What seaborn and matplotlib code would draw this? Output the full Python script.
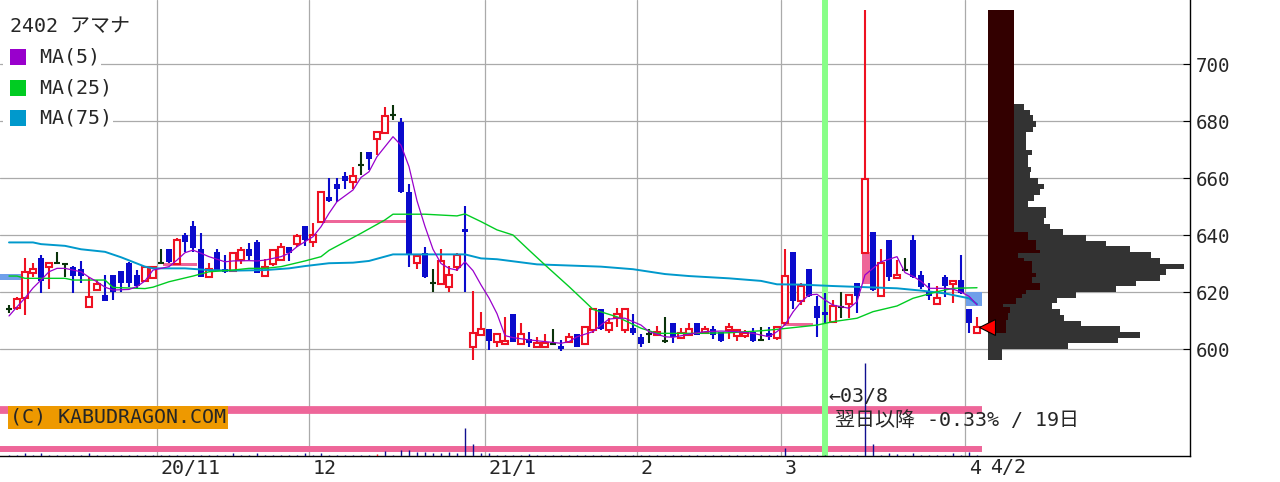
import numpy as np
import pandas as pd
import matplotlib
matplotlib.use("Agg")
import matplotlib.pyplot as plt
import seaborn as sns
from matplotlib.patches import Rectangle
from matplotlib.transforms import ScaledTranslation

sns.set_theme(style="white")
plt.rcParams['font.family'] = ['DejaVu Sans Mono', 'Noto Sans CJK JP']

# TSE trading days shown (2020-10-06 .. 2021-04-02)
holidays = ["2020-11-03", "2020-11-23", "2020-12-31", "2021-01-01",
            "2021-01-11", "2021-02-11", "2021-02-23"]
dates = pd.bdate_range("2020-10-06", "2021-04-02")
dates = dates[~dates.isin(pd.to_datetime(holidays))]

opens = [614.0, 614.4, 617.8, 626.6, 631.8, 628.9, 630.1, 629.8, 628.9, 628.1,
         614.6, 620.7, 619.0, 626.0, 627.2, 630.1, 626.0, 623.9, 624.8, 630.1,
         635.0, 629.7, 640.0, 643.3, 635.1, 625.4, 634.1, 628.1, 627.2, 631.2,
         635.1, 637.6, 625.6, 629.8, 631.2, 635.9, 636.8, 643.3, 637.6, 644.5,
         653.4, 657.9, 660.8, 658.7, 664.6, 669.0, 673.7, 675.7, 682.1, 679.8,
         655.0, 630.1, 633.6, 623.1, 622.8, 621.7, 628.9, 642.1, 600.8, 604.9,
         606.9, 602.6, 601.8, 612.2, 601.7, 603.4, 600.8, 600.8, 601.8, 601.1,
         602.6, 605.2, 601.8, 606.7, 613.9, 606.7, 610.8, 606.5, 607.3, 604.3,
         605.3, 604.9, 602.9, 609.0, 603.8, 604.9, 609.0, 605.7, 606.9, 605.9,
         606.7, 604.6, 604.6, 606.1, 603.2, 605.5, 603.8, 609.0, 633.9, 616.8,
         628.1, 615.1, 613.1, 609.6, 614.9, 615.8, 623.0, 633.6, 641.0, 618.6,
         638.2, 624.8, 627.7, 638.2, 626.0, 619.9, 615.8, 625.4, 622.8, 624.2,
         613.9, 605.7]
highs = [615.4, 618.2, 631.8, 630.3, 633.0, 630.1, 634.0, 630.1, 629.3, 631.0,
         625.2, 624.2, 626.0, 626.0, 627.2, 630.7, 627.7, 628.9, 628.9, 635.1,
         635.0, 638.8, 640.6, 645.0, 640.6, 630.1, 635.0, 633.0, 634.1, 635.9,
         637.3, 638.2, 631.6, 634.7, 637.3, 635.9, 640.3, 643.3, 644.1, 655.0,
         659.9, 659.9, 662.0, 663.8, 669.0, 669.0, 676.0, 685.0, 685.6, 681.0,
         657.8, 632.8, 635.9, 628.1, 635.0, 629.1, 633.6, 650.2, 620.4, 613.1,
         606.9, 605.7, 611.1, 612.2, 609.0, 605.8, 604.3, 605.1, 607.0, 603.2,
         605.5, 605.2, 607.8, 613.9, 613.9, 610.8, 614.3, 613.9, 612.3, 605.2,
         606.9, 608.1, 611.3, 609.0, 607.3, 609.0, 609.0, 608.2, 608.1, 605.9,
         609.0, 606.9, 606.7, 607.3, 607.8, 607.8, 608.1, 635.1, 633.9, 623.3,
         628.1, 618.6, 619.5, 617.2, 619.9, 618.9, 623.0, 718.9, 641.0, 635.1,
         638.2, 631.2, 631.8, 640.0, 627.2, 623.0, 622.1, 626.0, 623.9, 633.0,
         613.9, 611.1]
lows = [612.6, 613.7, 611.9, 625.4, 619.8, 621.0, 629.8, 625.4, 619.8, 623.0,
        614.6, 620.7, 616.7, 617.2, 620.1, 621.9, 621.3, 623.9, 624.8, 630.0,
        630.1, 629.7, 634.1, 634.1, 625.2, 625.2, 627.2, 626.6, 626.9, 629.8,
        631.2, 626.6, 625.6, 629.0, 631.0, 631.0, 635.7, 636.3, 635.9, 644.5,
        651.7, 651.7, 656.0, 656.0, 661.1, 662.8, 668.1, 675.7, 680.4, 654.6,
        628.9, 628.0, 624.8, 619.9, 622.8, 619.9, 627.2, 619.9, 596.1, 604.9,
        599.6, 600.8, 601.8, 602.6, 601.7, 600.8, 600.8, 600.8, 601.4, 599.4,
        602.0, 600.6, 601.8, 605.5, 606.5, 605.7, 607.8, 605.5, 604.9, 600.8,
        602.0, 604.9, 602.0, 602.0, 603.8, 604.9, 604.9, 605.5, 603.4, 602.6,
        603.4, 602.9, 603.8, 602.6, 602.9, 603.2, 603.2, 608.4, 614.0, 615.4,
        618.2, 604.1, 608.8, 609.0, 610.8, 610.8, 612.5, 633.6, 620.5, 618.6,
        624.0, 624.8, 627.7, 624.8, 621.0, 617.2, 615.8, 618.1, 616.0, 619.3,
        605.7, 605.7]
closes = [614.0, 617.5, 626.9, 628.1, 623.9, 630.1, 630.1, 629.8, 625.6, 625.6,
          618.1, 622.8, 617.0, 619.9, 623.3, 623.0, 622.1, 628.9, 628.9, 630.1,
          630.7, 638.2, 637.4, 635.6, 625.4, 628.1, 627.5, 626.9, 633.8, 634.7,
          632.6, 626.8, 628.9, 634.7, 635.9, 633.6, 639.8, 638.2, 640.0, 655.0,
          652.0, 656.0, 659.0, 660.8, 664.6, 666.7, 676.0, 681.9, 682.1, 655.0,
          633.0, 632.8, 625.2, 623.1, 631.0, 626.0, 633.0, 641.0, 605.7, 606.9,
          602.9, 605.3, 602.9, 602.6, 605.2, 602.0, 602.2, 602.2, 601.8, 599.9,
          604.3, 600.8, 607.8, 613.9, 606.9, 609.0, 612.2, 613.9, 605.5, 601.8,
          605.3, 605.9, 602.9, 604.1, 605.5, 607.0, 604.9, 606.9, 604.9, 602.9,
          607.8, 606.7, 605.7, 602.9, 603.2, 604.1, 607.8, 625.7, 617.0, 622.1,
          618.6, 611.0, 611.9, 615.1, 614.9, 618.9, 618.7, 659.6, 620.7, 630.1,
          625.2, 626.0, 627.7, 625.1, 621.9, 618.7, 618.0, 622.2, 623.9, 619.5,
          609.0, 607.8]
volume = [1, 1, 2.7, 1, 2.7, 1, 1, 1, 1, 1,
          2.7, 1, 1, 1, 1, 1, 1, 1, 1, 1,
          1, 1, 1, 1, 1, 1, 1, 1, 2.7, 1,
          1, 2.7, 1, 1, 1, 1, 1, 2.7, 1, 2.7,
          1, 1, 1, 1, 1, 1, 2, 5.3, 1, 6,
          6, 4, 4, 2.7, 2.7, 4, 2.7, 27.7, 12, 2.7,
          2.7, 1, 1, 1, 1, 2, 1, 1, 1, 1,
          1, 1, 1, 1, 1, 1, 1, 1, 1, 1,
          1, 1, 1, 1, 1, 1, 1, 1, 1, 1,
          1, 1, 1, 1, 1, 1, 1, 8, 1, 1,
          1, 1, 1, 1, 1, 1, 1, 93, 12, 1,
          2.7, 2, 1, 2.7, 1, 1, 1, 1, 2.7, 1,
          4, 1]

# moving averages (candle index, price)
ma5_idx = [0, 1, 2, 3, 4, 5, 6, 7, 9, 10, 11, 12, 13, 15, 16, 17, 18, 20, 21, 22,
           23, 24, 25, 27, 28, 30, 31, 32, 34, 35, 36, 38, 39, 40, 41, 43, 44, 45, 46, 48,
           49, 50, 51, 52, 53, 54, 55, 56, 57, 58, 59, 60, 61, 62, 63, 65, 67, 69, 70, 71,
           73, 74, 75, 76, 77, 79, 80, 82, 83, 85, 87, 89, 91, 93, 95, 96, 97, 98, 99, 100,
           101, 102, 103, 105, 106, 107, 108, 109, 111, 112, 113, 114, 115, 117, 118, 119, 120, 121]
ma5_val = [611.6, 614.8, 617.9, 621.4, 624.2, 627.1, 628.3, 628.3, 627.1, 625.2,
           623.6, 621.7, 620.7, 620.9, 621.9, 623.9, 627.7, 628.9, 631.2, 633.8,
           634.7, 633.6, 632.4, 630.6, 630.9, 631.0, 630.9, 631.2, 632.4, 633.6,
           635.9, 639.4, 642.9, 647.6, 651.7, 655.8, 660.2, 662.2, 667.5, 674.5,
           671.5, 664.0, 652.0, 643.0, 635.0, 630.0, 628.3, 627.7, 630.6, 627.5,
           622.5, 617.9, 612.4, 604.7, 604.0, 603.2, 602.6, 602.0, 602.6, 604.3,
           606.1, 608.4, 610.5, 610.8, 610.8, 608.4, 606.1, 604.3, 604.1, 605.2,
           606.1, 606.3, 606.1, 605.5, 604.3, 606.1, 608.5, 613.0, 616.5, 619.0,
           619.2, 617.2, 615.4, 614.3, 616.6, 626.0, 628.3, 630.6, 632.4, 626.8,
           625.5, 623.8, 621.3, 621.3, 621.0, 620.0, 618.5, 615.5]
ma25_idx = [0, 1, 2, 7, 8, 12, 13, 17, 18, 20, 23, 25, 28, 30, 32, 34, 37, 39, 40, 44,
            47, 48, 52, 56, 57, 59, 61, 63, 65, 67, 70, 72, 73, 76, 79, 81, 86, 90, 94, 96,
            99, 101, 103, 106, 108, 111, 113, 116, 118, 121]
ma25_val = [625.6, 625.6, 624.8, 624.8, 624.2, 624.2, 621.6, 621.2, 621.7, 623.6,
            625.6, 627.1, 627.7, 628.3, 628.3, 628.9, 630.9, 632.4, 634.6, 640.6,
            645.3, 647.3, 647.3, 646.7, 647.4, 644.7, 641.8, 640.0, 634.7, 629.5,
            621.9, 616.6, 613.9, 611.3, 607.3, 605.5, 605.5, 605.7, 606.4, 606.9,
            607.8, 608.4, 609.6, 610.8, 613.1, 615.1, 617.8, 620.1, 621.3, 621.5]
ma75_idx = [0, 3, 4, 7, 9, 12, 14, 17, 18, 22, 25, 28, 32, 35, 37, 40, 43, 45, 48, 57,
            59, 61, 66, 74, 78, 82, 85, 90, 94, 96, 99, 103, 111, 114, 117, 120, 121]
ma75_val = [637.4, 637.4, 636.8, 636.2, 635.0, 634.1, 632.2, 628.9, 628.3, 628.3,
            627.7, 627.5, 627.7, 628.3, 629.1, 630.1, 630.3, 630.9, 633.2, 633.2,
            631.8, 631.5, 629.7, 628.9, 628.0, 626.3, 625.6, 624.8, 623.9, 622.7,
            622.6, 622.1, 621.3, 620.5, 619.5, 617.8, 615.8]

# price-by-volume profile (2-yen bins, lower edge) and recent-period profile
prof_price = list(range(596, 686, 2))
prof_vol = [14, 14, 80, 130, 152, 132, 93, 76, 72, 64, 69, 88, 128, 148, 172, 178,
            196, 172, 163, 142, 118, 98, 75, 62, 56, 58, 58, 40, 46, 52, 56, 50,
            42, 43, 40, 40, 44, 38, 38, 38, 45, 48, 45, 42, 36]
recent_lo = [605.5, 610.2, 612.5, 614.9, 615.7, 617.8, 619.3, 620.7, 623.0, 625.1,
             626.6, 631.0, 631.8, 633.6, 634.7, 638.2, 641.2]
recent_hi = [610.2, 612.5, 614.9, 615.7, 617.8, 619.3, 620.7, 623.0, 625.1, 626.6,
             631.0, 631.8, 633.6, 634.7, 638.2, 641.2, 718.9]
recent_vol = [18, 20, 22, 15, 28, 34, 38, 52, 44, 48, 44, 36, 30, 52, 48, 40, 26]

# open window (gap) markers: first/last candle index, price range, direction
gap_from = [-1.2, 19.25, 38.6, 96.75, 106.6, 119.6]
gap_to = [1.8, 23.5, 49.6, 100.5, 107.6, 121.6]
gap_lo = [624.2, 629.3, 644.1, 608.1, 622.8, 615.1]
gap_hi = [626.3, 630.3, 645.3, 609.0, 633.9, 620.0]
gap_up = [False, True, True, True, True, False]

RED, BLUE, DOJI = '#ee1122', '#0a0acc', '#0b330b'
PINK, GAPBLUE = '#ee6699', '#6f9fea'

df = pd.DataFrame({'date': dates, 'open': opens, 'high': highs,
                   'low': lows, 'close': closes, 'vol': volume})
df['pos'] = np.arange(len(df))
up = df[df.close > df.open]
down = df[df.close < df.open]
flat = df[df.close == df.open]

fig = plt.figure(figsize=(12.8, 4.82), dpi=100)
ax = fig.add_axes([0, 26 / 482, 1190 / 1280, 456 / 482])
ax_v = ax.twinx()
ax_p = ax.twiny()

ax.set_xlim(-1.125, 147.625)
ax.set_ylim(562.46, 722.46)

# gap markers
for x0, x1, lo, hi, g in zip(gap_from, gap_to, gap_lo, gap_hi, gap_up):
    ax.add_patch(Rectangle((x0, lo), x1 - x0, hi - lo, facecolor=PINK if g else GAPBLUE,
                           edgecolor='none', zorder=1.8))

# reference lines in the lower band
last = df.pos.iloc[-1]
for yf, lw in [(1 - 410 / 456, 5.6), (1 - 449 / 456, 4.3)]:
    ax.hlines(yf, -1.125, last + 0.6, color=PINK, lw=lw,
              transform=ax.get_xaxis_transform(), zorder=1.2)

mark_pos = df.pos[df.date == pd.Timestamp("2021-03-08")].iloc[0]
ax.axvline(mark_pos, color='#88ff88', lw=4.3, zorder=1.5)

# candles
ax.vlines(up.pos, up.low, up.high, color=RED, lw=1.5, zorder=3)
ax.vlines(down.pos, down.low, down.high, color=BLUE, lw=1.5, zorder=3)
ax.vlines(flat.pos, flat.low, flat.high, color=DOJI, lw=1.5, zorder=3)
ax.bar(down.pos, down.open - down.close, bottom=down.close, width=0.78,
       color=BLUE, linewidth=0, zorder=4)
ax.bar(up.pos, up.close - up.open, bottom=up.open, width=0.64,
       facecolor='white', edgecolor=RED, linewidth=1.5, zorder=4)
ax.hlines(flat.close, flat.pos - 0.38, flat.pos + 0.38, color=DOJI, lw=1.5, zorder=4)

# moving averages
sns.lineplot(x=ma75_idx, y=ma75_val, ax=ax, color='#0099cc', linewidth=1.4, zorder=5)
sns.lineplot(x=ma25_idx, y=ma25_val, ax=ax, color='#00cc22', linewidth=1.0, zorder=5)
sns.lineplot(x=ma5_idx, y=ma5_val, ax=ax, color='#9900cc', linewidth=0.9, zorder=5)

# grid and axes styling
ax.grid(True, color='#aaaaaa', lw=0.9)
ax.set_axisbelow(True)
months = df[df.date.dt.month != df.date.dt.month.shift()].iloc[1:]
ticks = months.pos - 0.5
labels = [f"{d.year % 100}/{d.month}" if (d.month == 1 or i == 0) else f"{d.month}"
          for i, d in enumerate(months.date)]
ax.set_xticks(ticks)
ax.set_xticklabels(labels)
ax.set_yticks([600, 620, 640, 660, 680, 700])
ax.yaxis.tick_right()
ax.yaxis.set_label_position('right')
ax.tick_params(axis='y', direction='in', length=4.8, width=0.8, color='black',
               labelsize=13.8, pad=4, right=True, left=False, labelright=True, labelleft=False)
ax.tick_params(axis='x', length=0, labelsize=14.4, pad=2)
off = ScaledTranslation(4 / 100, 0, fig.dpi_scale_trans)
for lab in ax.get_xticklabels():
    lab.set_horizontalalignment('left')
    lab.set_transform(lab.get_transform() + off)
ax.annotate(dates[-1].strftime("%-m/%-d"), xy=(last, 0), xycoords=('data', 'axes fraction'),
            xytext=(9.4, -1.6), textcoords='offset points', ha='left', va='top', fontsize=14.4)
ax.set_xlabel('')
ax.set_ylabel('')
for s in ['top', 'left']:
    ax.spines[s].set_visible(False)
for s in ['right', 'bottom']:
    ax.spines[s].set_color('black')
    ax.spines[s].set_linewidth(1.0)

# volume sticks
ax_v.set_ylim(0, 456)
vcol = [RED if i == 46 else '#101090' for i in df.pos]
ax_v.vlines(df.pos, 0, df.vol, colors=vcol, lw=1.0)
ax_v.axis('off')

# price-by-volume profile on the right
ax_p.set_xlim(-988, 202)
ax_p.barh(prof_price, prof_vol, height=2, align='edge', left=0, color='#333333', linewidth=0)
ax_p.barh(recent_lo, recent_vol, height=np.array(recent_hi) - np.array(recent_lo),
          align='edge', left=0, color='#330000', linewidth=0)
ax_p.plot(-1, closes[-1], marker='<', ms=12, mfc='#ff0000', mec='black', mew=0.8,
          clip_on=False, zorder=6)
ax_p.axis('off')

# legend / header
fig.text(10 / 1280, 1 - 27 / 482, "2402 アマナ", fontsize=14.4, va='center', ha='left')
for yc, name, col in [(57, "MA(5)", '#9900cc'), (88, "MA(25)", '#00cc22'),
                      (118, "MA(75)", '#0099cc')]:
    fig.text(4 / 1280, 1 - yc / 482, "   " + name, fontsize=14.4, va='center', ha='left',
             bbox=dict(facecolor='white', edgecolor='none', pad=1))
    fig.patches.append(Rectangle((10 / 1280, 1 - (yc + 8) / 482), 16 / 1280, 16 / 482,
                                 transform=fig.transFigure, facecolor=col, edgecolor='none',
                                 zorder=10))

fig.text(10 / 1280, 1 - 417 / 482, "(C) KABUDRAGON.COM", fontsize=14.4, va='center', ha='left',
         bbox=dict(facecolor='#ee9900', edgecolor='none', pad=1.5))
fig.text(828 / 1280, 1 - 396 / 482, "←03/8", fontsize=14.4, va='center', ha='left')
fig.text(835 / 1280, 1 - 420 / 482, "翌日以降 -0.33% / 19日", fontsize=14.4, va='center', ha='left')

fig.savefig("out.png", dpi=100, facecolor='white')
